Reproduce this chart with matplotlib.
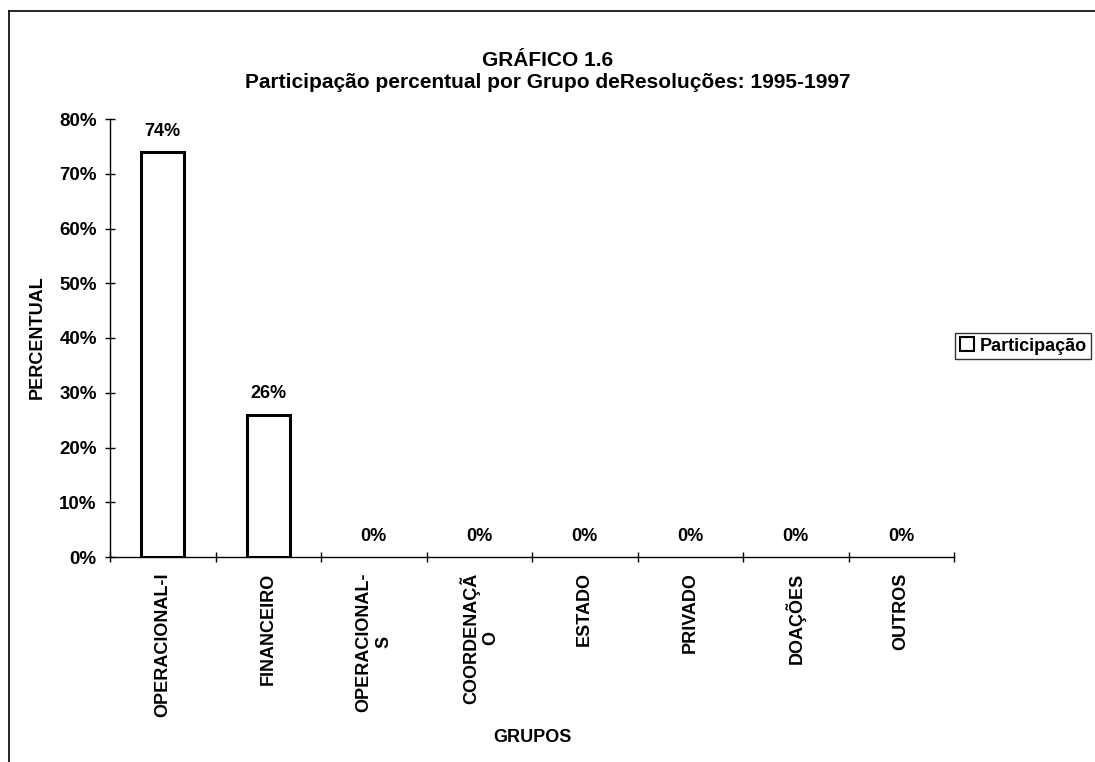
import matplotlib
matplotlib.use('Agg')
import matplotlib.pyplot as plt
from matplotlib.patches import Patch
from matplotlib.lines import Line2D
import numpy as np

categories = ["OPERACIONAL-I", "FINANCEIRO", "OPERACIONAL-\nS", "COORDENAÇÃ\nO",
              "ESTADO", "PRIVADO", "DOAÇÕES", "OUTROS"]
values = [0.74, 0.26, 0.0, 0.0, 0.0, 0.0, 0.0, 0.0]
value_labels = ["74%", "26%", "0%", "0%", "0%", "0%", "0%", "0%"]
y_ticks = [0.0, 0.1, 0.2, 0.3, 0.4, 0.5, 0.6, 0.7, 0.8]
y_tick_labels = ["0%", "10%", "20%", "30%", "40%", "50%", "60%", "70%", "80%"]
series_name = "Participação"
title1 = "GRÁFICO 1.6"
title2 = "Participação percentual por Grupo deResoluções: 1995-1997"

plt.rcParams['font.family'] = ['Liberation Sans', 'DejaVu Sans']
FS = 13

fig = plt.figure(figsize=(10.95, 7.62), dpi=100)
W, H = 1095, 762
ax = fig.add_axes([110 / W, 1 - 557 / H, (954 - 110) / W, (557 - 119) / H])

x = np.arange(len(categories))
lws = [2.2 if v > 0 else 0 for v in values]
ax.bar(x, values, width=0.41, color='white', edgecolor='black', linewidth=lws, zorder=3)

ax.set_xlim(-0.5, len(categories) - 0.5)
ax.set_ylim(0, 0.8)
for s in ['top', 'right']:
    ax.spines[s].set_visible(False)
for s in ['left', 'bottom']:
    ax.spines[s].set_linewidth(1.0)

ax.set_yticks(y_ticks)
ax.set_yticklabels(y_tick_labels, fontsize=13.5, fontweight='bold')
ax.tick_params(axis='y', direction='inout', length=7, width=1, pad=6)

ax.set_xticks(x)
ax.set_xticklabels(categories, rotation=90, fontsize=FS, fontweight='bold',
                   va='top', ha='center', multialignment='center')
ax.tick_params(axis='x', which='major', length=0, pad=11)
ax.set_xticks(np.arange(-0.5, len(categories), 1), minor=True)
ax.tick_params(axis='x', which='minor', direction='inout', length=7, width=1)

for xi, v, lab in zip(x, values, value_labels):
    ax.annotate(lab, (xi, v), xytext=(0, 15), textcoords='offset points',
                ha='center', va='center', fontsize=FS, fontweight='bold')

fig.text(37 / W, 1 - 337 / H, "PERCENTUAL", rotation=90, ha='center', va='center',
         fontsize=FS, fontweight='bold')
fig.text(532 / W, 1 - 738 / H, "GRUPOS", ha='center', va='center',
         fontsize=FS, fontweight='bold')
fig.text(548 / W, 1 - 61 / H, title1, ha='center', va='center', fontsize=15, fontweight='bold')
fig.text(548 / W, 1 - 83 / H, title2, ha='center', va='center', fontsize=15, fontweight='bold')

handle = Patch(facecolor='white', edgecolor='black', linewidth=1.5)
leg = fig.legend([handle], [series_name], loc='center left',
                 bbox_to_anchor=(955 / W, 1 - 346 / H),
                 prop={'size': FS, 'weight': 'bold'}, frameon=True, fancybox=False,
                 edgecolor='black', handlelength=0.8, handleheight=0.8,
                 handletextpad=0.3, borderpad=0.25, borderaxespad=0)
leg.get_frame().set_linewidth(1.0)

# outer frame of the chart area
fig.add_artist(Line2D([9 / W, 9 / W], [0, 1 - 11 / H], color='black', lw=1.2,
                      transform=fig.transFigure))
fig.add_artist(Line2D([9 / W, 1], [1 - 11 / H, 1 - 11 / H], color='black', lw=1.2,
                      transform=fig.transFigure))

fig.savefig('out.png', dpi=100)
